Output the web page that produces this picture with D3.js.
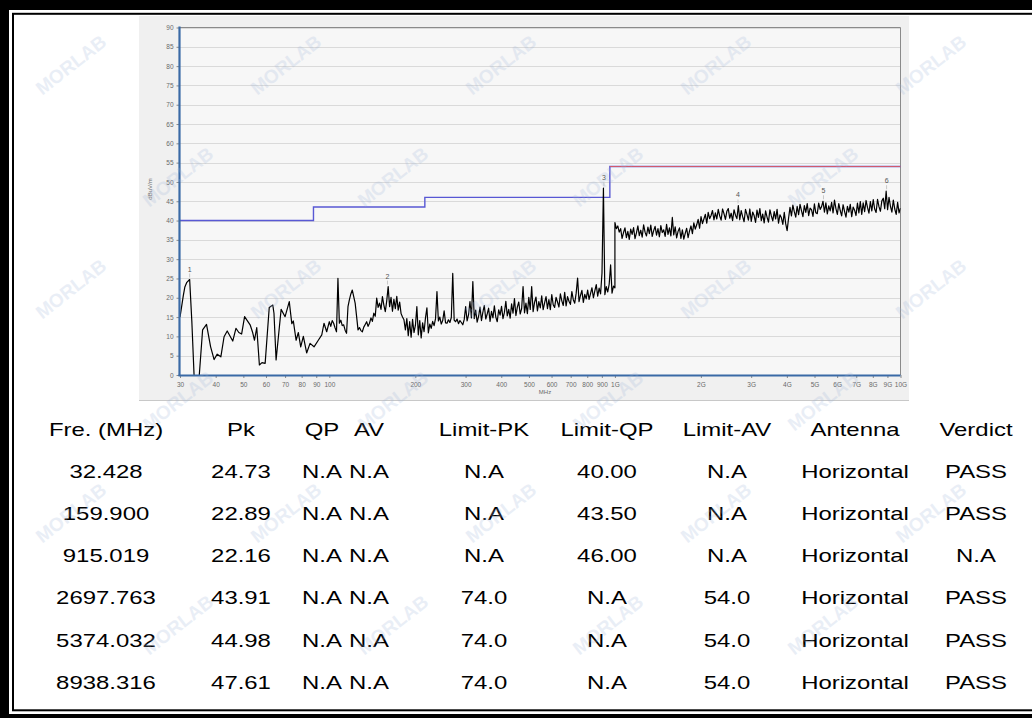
<!DOCTYPE html>
<html><head><meta charset="utf-8">
<script src="https://cdn.jsdelivr.net/npm/d3@7"></script>
<style>html,body{margin:0;padding:0;background:#fff;} svg{display:block;}</style>
</head><body>
<svg id="chart" width="1032" height="718"></svg>
<script>
// ---------------- measurement data ----------------
// 30 MHz .. 100 MHz sweep: [MHz, dBuV/m]
const lowSweep = [
  [30.0,15.0],[30.8,20.5],[31.2,22.8],[31.7,24.0],[32.428,24.73],[33.0,14.0],[33.6,0.0],[34.2,-6.0],
  [34.8,-2.0],[35.05,0.0],[36.0,11.7],[37.15,13.1],[38.4,7.3],[39.5,4.0],[40.5,5.4],[41.7,4.7],
  [42.8,9.9],[43.9,11.4],[45.9,8.8],[47.1,12.1],[48.2,11.0],[49.3,10.6],[50.5,15.1],[52.8,13.0],
  [53.9,11.0],[54.7,9.0],[55.7,12.3],[56.9,2.6],[58.1,3.2],[59.6,3.0],[61.6,17.5],[63.4,18.1],
  [64.0,16.0],[65.1,3.9],[67.8,17.0],[70.0,15.1],[72.4,19.0],[73.9,13.3],[74.8,14.0],[76.5,9.0],
  [77.9,11.0],[79.4,7.3],[81.1,10.0],[83.3,5.7],[85.6,8.2],[88.4,7.3],[91.5,9.0],[94.1,10.4],
  [95.8,13.4],[97.9,11.2]
];

// 100 MHz .. 1 GHz sweep, log-spaced sweep points
const midStartMHz = 100, midStopMHz = 1000;
const midLevels = [
  13.8,12.6,14.1,13.4,12.2,11.2,25.0,13.4,14.2,12.8, 13.0,11.6,10.8,17.7,19.5,21.0,22.0,20.3,18.6,15.2,
  11.7,12.3,11.5,11.2,12.4,13.1,13.8,12.6,13.4,14.8, 13.9,16.0,15.2,19.9,17.5,18.6,17.0,20.3,18.1,16.4,
  19.2,22.9,17.7,20.1,16.5,19.6,17.2,20.4,16.8,18.9, 15.9,15.0,14.3,11.7,14.6,10.2,13.8,9.8,14.4,11.0,
  12.9,17.7,10.4,14.1,9.6,13.5,11.2,14.8,17.4,10.9, 13.2,12.1,13.9,12.8,14.6,21.6,14.0,15.0,13.2,14.1,
  16.6,13.5,13.4,14.3,13.6,14.9,26.3,14.2,13.8,14.5, 13.3,14.1,13.6,13.0,14.4,17.7,14.0,15.6,19.0,14.8,
  24.2,14.6,16.8,13.7,15.2,17.6,14.1,16.3,18.0,14.5, 15.8,17.3,13.9,16.5,14.8,17.9,15.0,13.8,16.9,15.5,
  17.8,14.6,16.2,19.1,15.3,17.0,14.7,18.4,16.0,19.8, 15.4,17.6,18.9,15.8,17.2,22.9,16.1,18.6,15.9,20.1,
  17.0,22.9,16.4,18.8,20.2,16.6,19.0,17.4,20.5,16.9, 18.7,20.3,17.2,19.5,16.9,20.8,18.2,17.5,20.1,18.9,
  17.6,21.0,19.2,18.0,21.4,17.9,20.3,19.1,18.3,21.6, 19.5,18.6,21.2,25.1,19.0,20.6,21.9,18.8,20.9,19.7,
  22.0,19.6,21.1,22.6,20.0,21.8,23.4,20.4,22.5,21.0, 26.4,48.4,20.8,22.9,21.5,23.5,28.5,21.2,23.0,22.6
];

// 1 GHz .. 10 GHz sweep, log-spaced sweep points
const highStartMHz = 1000, highStopMHz = 10000;
const highLevels = [
  39.5,37.9,38.6,37.0,37.9,35.4,36.9,38.1,35.6,37.2, 35.1,37.8,36.4,38.2,35.3,36.8,38.6,36.1,37.5,35.7,
  38.9,37.0,36.0,38.3,36.6,38.8,35.9,37.4,38.5,36.2, 37.9,35.8,38.7,36.9,37.6,35.9,39.0,36.4,38.1,36.0,
  40.8,36.3,38.4,35.5,37.2,38.1,35.4,37.6,35.2,36.7, 38.0,35.6,37.3,38.6,36.6,39.4,37.8,38.9,40.3,38.0,
  41.0,39.2,40.4,41.6,39.3,42.1,40.5,41.3,42.6,40.2, 42.0,40.4,42.9,41.2,40.1,43.0,41.8,40.3,42.4,43.1,
  40.6,41.9,40.0,42.8,41.4,40.5,43.9,40.2,42.6,41.0, 39.7,42.9,41.6,40.1,43.0,39.8,42.2,41.3,39.5,42.7,
  40.8,43.1,40.0,41.7,39.4,42.5,40.9,39.6,42.8,41.2, 39.9,42.3,40.4,42.9,39.3,41.5,40.7,39.0,42.1,39.2,
  37.4,40.6,43.4,41.2,44.0,42.3,40.9,43.7,41.5,44.2, 42.6,41.0,43.9,42.1,44.4,41.3,43.2,42.8,41.1,44.3,
  42.0,41.8,44.5,42.9,43.6,45.0,42.2,44.6,41.7,43.8, 42.5,44.7,42.0,45.3,43.1,41.6,44.4,42.6,41.2,44.1,
  42.4,40.9,43.7,42.2,44.2,41.0,43.5,42.7,41.3,44.5, 42.0,44.9,41.6,44.6,42.3,45.2,43.4,41.9,44.9,42.5,
  45.4,43.0,42.1,45.5,43.6,42.4,45.1,45.8,43.1,47.6, 42.8,46.0,43.7,42.2,45.3,43.0,41.6,44.7,42.0,43.2
];

// limit lines [MHz, dBuV/m]
const qpLimitSteps = [[30,40],[88,43.5],[216,46],[960,54],[10000,54]];
const avLimitLine = [[960,54],[10000,54]];

// axes
const yTicks = [0,5,10,15,20,25,30,35,40,45,50,55,60,65,70,75,80,85,90];
const xTicks = [30,40,50,60,70,80,90,100,200,300,400,500,600,700,800,900,1000,2000,3000,4000,5000,6000,7000,8000,9000,10000];
const xTickLabels = ["30","40","50","60","70","80","90","100","200","300","400","500","600","700","800","900","1G","2G","3G","4G","5G","6G","7G","8G","9G","10G"];

// marker table
const tableHeaders = ["Fre. (MHz)","Pk","QP","AV","Limit-PK","Limit-QP","Limit-AV","Antenna","Verdict"];
const markerFreqs = [32.428,159.900,915.019,2697.763,5374.032,8938.316];
const markerPk = [24.73,22.89,22.16,43.91,44.98,47.61];
const markerQP = [null,null,null,null,null,null];
const markerAV = [null,null,null,null,null,null];
const limitPK = [null,null,null,74.0,74.0,74.0];
const limitQP = [40.00,43.50,46.00,null,null,null];
const limitAV = [null,null,null,54.0,54.0,54.0];
const antennas = ["Horizontal","Horizontal","Horizontal","Horizontal","Horizontal","Horizontal"];
const verdicts = ["PASS","PASS","N.A","PASS","PASS","PASS"];

// ---------------- drawing ----------------
const svg = d3.select("#chart");
const W = 1032, H = 718;
svg.append("rect").attr("width", W).attr("height", H).attr("fill", "#fff");

// page frame
const frame = svg.append("g");
frame.append("rect").attr("x",0).attr("y",0).attr("width",W).attr("height",10).attr("fill","#000");
frame.append("rect").attr("x",0).attr("y",0).attr("width",9).attr("height",H).attr("fill","#000");
frame.append("rect").attr("x",0).attr("y",714).attr("width",W).attr("height",4).attr("fill","#000");
frame.append("rect").attr("x",13).attr("y",13.8).attr("width",W+10).attr("height",696.5)
  .attr("fill","none").attr("stroke","#000").attr("stroke-width",2);

// chart panel
const plot = {left:180, right:900.5, top:27.5, bottom:375};
svg.append("rect").attr("x",139).attr("y",16).attr("width",770).attr("height",385).attr("fill","#f0f0f0");
svg.append("rect").attr("x",plot.left).attr("y",plot.top)
  .attr("width",plot.right-plot.left).attr("height",plot.bottom-plot.top).attr("fill","#f7f7f7");
svg.append("line").attr("x1",139).attr("x2",909).attr("y1",400.5).attr("y2",400.5).attr("stroke","#c8c8c8");

const x = d3.scaleLog().domain([30,10000]).range([plot.left, plot.right]);
const y = d3.scaleLinear().domain([0,90]).range([plot.bottom, plot.top]);

// horizontal grid
svg.append("g").selectAll("line").data(yTicks.filter(t=>t>0)).join("line")
  .attr("x1",plot.left).attr("x2",plot.right)
  .attr("y1",d=>Math.round(y(d))+0.5).attr("y2",d=>Math.round(y(d))+0.5)
  .attr("stroke","#dadada").attr("stroke-width",1);

// plot border top/right
svg.append("path").attr("d",`M${plot.left},${plot.top}H${plot.right}V${plot.bottom}`)
  .attr("fill","none").attr("stroke","#8a8a8a").attr("stroke-width",1);

// y axis
const yAxis = d3.axisLeft(y).tickValues(yTicks).tickSize(3).tickPadding(3);
const gy = svg.append("g").attr("transform",`translate(${plot.left-0.5},0)`).call(yAxis);
gy.select(".domain").remove();
gy.selectAll(".tick line").attr("stroke","#8a8a8a");
gy.selectAll(".tick text").attr("fill","#6a6a6a").style("font","6.5px 'Liberation Sans', Arial, sans-serif");

// x axis
const xAxis = d3.axisBottom(x).tickValues(xTicks).tickFormat((d,i)=>xTickLabels[i]).tickSize(3).tickPadding(4);
const gx = svg.append("g").attr("transform",`translate(0,${plot.bottom})`).call(xAxis);
gx.select(".domain").remove();
gx.selectAll(".tick line").attr("stroke","#8a8a8a");
gx.selectAll(".tick text").attr("fill","#6a6a6a").style("font","6.5px 'Liberation Sans', Arial, sans-serif");

svg.append("text").attr("x",545).attr("y",394).attr("text-anchor","middle")
  .attr("fill","#6a6a6a").style("font","6px 'Liberation Sans', Arial, sans-serif").text("MHz");
svg.append("text").attr("transform","translate(152,189) rotate(-90)").attr("text-anchor","middle")
  .attr("fill","#6a6a6a").style("font","6px 'Liberation Sans', Arial, sans-serif").text("dBuV/m");

// clip region for the measurement trace
svg.append("clipPath").attr("id","plotClip").append("rect")
  .attr("x",plot.left).attr("y",plot.top).attr("width",plot.right-plot.left).attr("height",plot.bottom-plot.top);

// limit lines
const lim = d3.line().x(d=>x(d[0])).y(d=>y(d[1]));
svg.append("path").attr("d", lim.curve(d3.curveStepAfter)(qpLimitSteps))
  .attr("fill","none").attr("stroke","#5858d4").attr("stroke-width",1.4);
svg.append("path").attr("d", d3.line().x(d=>x(d[0])).y(d=>y(d[1]))(avLimitLine))
  .attr("fill","none").attr("stroke","#d05a6e").attr("stroke-width",1.2);

// assemble trace
const sweepPoints = (start, stop, levels) => levels.map((v,i)=>({f: start*Math.pow(stop/start, i/(levels.length-1)), v}));
const trace = [
  ...lowSweep.map(([f,v])=>({f,v})),
  ...sweepPoints(midStartMHz, midStopMHz, midLevels),
  ...sweepPoints(highStartMHz, highStopMHz, highLevels)
];
svg.append("path").attr("clip-path","url(#plotClip)")
  .attr("d", d3.line().x(d=>x(d.f)).y(d=>y(d.v))(trace))
  .attr("fill","none").attr("stroke","#000").attr("stroke-width",1.2).attr("stroke-linejoin","round");

// axis lines (drawn over the trace)
svg.append("line").attr("x1",plot.left-0.5).attr("x2",plot.left-0.5).attr("y1",plot.top-1).attr("y2",plot.bottom+1)
  .attr("stroke","#3a6aa6").attr("stroke-width",2.2);
svg.append("line").attr("x1",plot.left-1.5).attr("x2",plot.right).attr("y1",plot.bottom+0.5).attr("y2",plot.bottom+0.5)
  .attr("stroke","#3a6aa6").attr("stroke-width",2);

// marker labels at local trace maxima
markerFreqs.forEach((fm,i)=>{
  const near = trace.filter(p=>Math.abs(Math.log10(p.f/fm))<0.006);
  const top = d3.max(near, p=>p.v);
  const px = x(fm), py = y(top);
  svg.append("line").attr("x1",px).attr("x2",px).attr("y1",py-6).attr("y2",py-2)
    .attr("stroke","#c8c8c8").attr("stroke-width",1);
  svg.append("text").attr("x",px).attr("y",py-8).attr("text-anchor","middle")
    .attr("fill","#555").style("font","7px 'Liberation Sans', Arial, sans-serif").text(i+1);
});

// result table
const colX = [106, 241, 322, 369, 484, 607, 727, 855, 976];
const headerBase = 435.5, rowBase = 477.5, rowStep = 42.3;
const tbl = svg.append("g").style("font","18px 'Liberation Sans', Arial, sans-serif").attr("fill","#000");
const cell = (cx, by, t) => tbl.append("text")
  .attr("transform",`translate(${cx},${by}) scale(1.33,1)`).attr("text-anchor","middle").text(t);
tableHeaders.forEach((h,j)=>cell(colX[j], headerBase, h));
const na = (v, digits) => v == null ? "N.A" : v.toFixed(digits);
markerFreqs.forEach((f,i)=>{
  const row = [f.toFixed(3), markerPk[i].toFixed(2), na(markerQP[i],2), na(markerAV[i],2),
    na(limitPK[i],1), na(limitQP[i],2), na(limitAV[i],1), antennas[i], verdicts[i]];
  row.forEach((t,j)=>cell(colX[j], rowBase + i*rowStep, t));
});

// watermark
const wm = svg.append("g").attr("pointer-events","none");
for (let r = 0; r < 6; r++) {
  for (let c = 0; c < 5; c++) {
    const wx = 75 + c*215 + (r%2)*107, wy = 70 + r*112;
    if (wx > 990) continue;
    wm.append("text").attr("transform",`translate(${wx},${wy}) rotate(-38)`)
      .attr("text-anchor","middle").attr("fill","#9fb4d8").attr("opacity",0.22)
      .style("font","bold 19px 'Liberation Sans', Arial, sans-serif").text("MORLAB");
  }
}
</script>
</body></html>
